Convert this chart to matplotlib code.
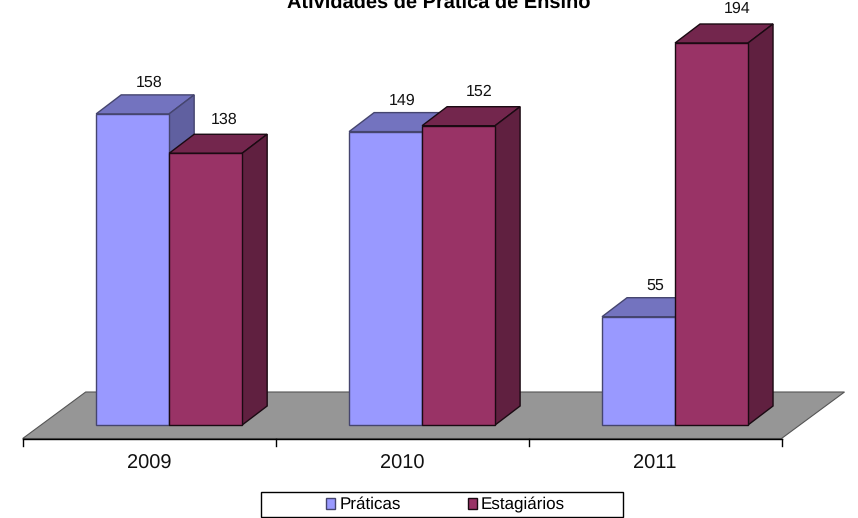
import matplotlib
matplotlib.use('Agg')
import matplotlib.pyplot as plt
from matplotlib.patches import Polygon, Patch, Rectangle

plt.rcParams['font.family'] = ['Liberation Sans', 'DejaVu Sans']
plt.rcParams['text.hinting'] = 'no_hinting'
plt.rcParams['text.hinting_factor'] = 1

# values
anos = ['2009', '2010', '2011']
praticas = [158, 149, 55]
estagiarios = [138, 152, 194]

W, H = 858, 518
# pixel layout of the plot (front plane)
x_left, x_right = 22.7, 781.5
y_zero, y_max = 425.0, 43.0
px_x = (x_right - x_left) / 3.0
px_y = (y_zero - y_max) / 194.0
dx = 25.0 / px_x     # depth, x units
dy = 19.0 / px_y     # depth, value units
bar_w = 73.0 / px_x
shift = 20.0 / px_x
floor_front = -13.5 / px_y
floor_back = 33.0 / px_y

fig = plt.figure(figsize=(W / 100, H / 100), dpi=100)
ax = fig.add_axes([0, 0, 1, 1])
ax.set_xlim(-0.5 - x_left / px_x, -0.5 + (W - x_left) / px_x)
ax.set_ylim((y_zero - H) / px_y, y_zero / px_y)
ax.axis('off')

# floor
fl_dx = 63.0 / px_x
ax.add_patch(Polygon([(-0.5, floor_front), (2.5, floor_front), (2.5 + fl_dx, floor_back), (-0.5 + fl_dx, floor_back)],
                     closed=True, facecolor='#969696', edgecolor='#555555', linewidth=0.8, zorder=1))
ax.plot([-0.5, 2.5], [floor_front, floor_front], color='black', linewidth=1.0, zorder=2)
tick_end = floor_front - 7.0 / px_y
for t in [-0.5, 0.5, 1.5, 2.5]:
    ax.plot([t, t], [floor_front, tick_end], color='black', linewidth=1.0, zorder=2)
for i, ano in enumerate(anos):
    ax.text(i, floor_front - 25.0 / px_y, ano, ha='center', va='center', fontsize=14.7, color='#111111')


def bar3d(x0, val, front, top, side, edge, z, lab_dx, lab_up):
    x1 = x0 + bar_w
    ax.bar(x0, val, width=bar_w, align='edge', color=front, edgecolor=edge, linewidth=1.0, zorder=z + 0.2)
    ax.add_patch(Polygon([(x0, val), (x1, val), (x1 + dx, val + dy), (x0 + dx, val + dy)], closed=True,
                         facecolor=top, edgecolor=edge, linewidth=1.0, zorder=z))
    ax.add_patch(Polygon([(x1, 0), (x1, val), (x1 + dx, val + dy), (x1 + dx, dy)], closed=True,
                         facecolor=side, edgecolor=edge, linewidth=1.0, zorder=z))
    ax.text(x0 + lab_dx / px_x, val + dy + lab_up / px_y, str(val), ha='center', va='center', fontsize=11.3,
            color='#111111', zorder=20)


lab_dx_est = [55, 57.5, 62]
for i in range(len(anos)):
    x_mid = i + shift
    bar3d(x_mid - bar_w, praticas[i], '#9999FF', '#7373BF', '#6060A0', '#45456F', 3 + 2 * i, 53, 12)
    bar3d(x_mid, estagiarios[i], '#993366', '#73264D', '#602040', '#1A0A12', 4 + 2 * i, lab_dx_est[i], 15)

# title is cut by the top edge in the original as well
ax.text(-0.5 + (439 - x_left) / px_x, (y_zero - 8) / px_y, 'Atividades de Prática de Ensino', ha='center', va='baseline',
        fontsize=14.1, fontweight='bold', color='black')

# legend box is wider than its entries
fig.add_artist(Rectangle((261 / W, 1 - 517 / H), 362 / W, 25 / H, transform=fig.transFigure,
                         facecolor='white', edgecolor='black', linewidth=1.0))
handles = [Patch(facecolor='#9999FF', edgecolor='#45456F', label='Práticas'),
           Patch(facecolor='#993366', edgecolor='#1A0A12', label='Estagiários')]
leg = fig.legend(handles=handles, loc='center', bbox_to_anchor=(445.5 / W, 1 - 505 / H), ncol=2, frameon=False,
                 fontsize=12.2, handlelength=0.55, handleheight=0.55,
                 handletextpad=0.24, columnspacing=3.95, borderpad=0, borderaxespad=0)
leg.set_zorder(5)
# first entry sits a pixel low otherwise
leg.get_texts()[0].set_y(1)

fig.savefig('out.png', dpi=100)
